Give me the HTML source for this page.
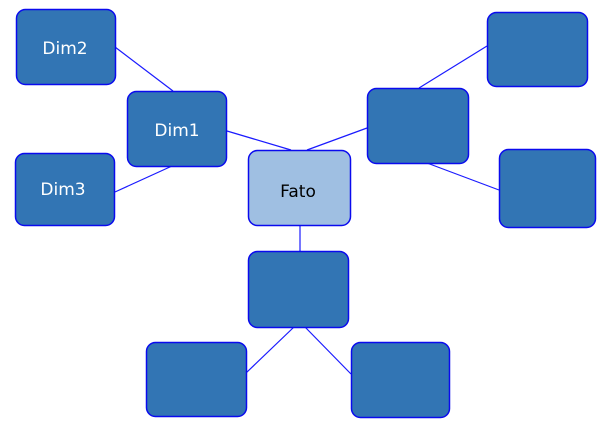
<!DOCTYPE html>
<html><head><meta charset="utf-8"><style>
html,body{margin:0;padding:0;background:#fff;width:600px;height:429px;overflow:hidden}
svg{display:block}
text{font-family:"DejaVu Sans","Liberation Sans",sans-serif;font-size:17px}
</style></head><body>
<svg width="600" height="429" viewBox="0 0 600 429">
<g stroke="#1a1aff" stroke-width="1.2" fill="none">
<line x1="115" y1="47" x2="173" y2="91"/>
<line x1="227" y1="131" x2="291" y2="150"/>
<line x1="172" y1="166" x2="115" y2="192"/>
<line x1="307" y1="150" x2="367" y2="128"/>
<line x1="419" y1="88" x2="487" y2="46"/>
<line x1="427" y1="163" x2="499" y2="190"/>
<line x1="300" y1="225" x2="300" y2="251"/>
<line x1="294" y1="327" x2="246" y2="373"/>
<line x1="305" y1="327" x2="351" y2="374"/>
</g>
<g stroke="#0a0aee" stroke-width="1.5" fill="#3275b4">
<rect x="16.5" y="9.5" width="99" height="75" rx="9"/>
<rect x="127.5" y="91.5" width="99" height="75" rx="9"/>
<rect x="15.5" y="153.5" width="99" height="72" rx="9"/>
<rect x="487.5" y="12.5" width="100" height="74" rx="9"/>
<rect x="367.5" y="88.5" width="101" height="75" rx="9"/>
<rect x="499.5" y="149.5" width="96" height="78" rx="9"/>
<rect x="248.5" y="251.5" width="100" height="76" rx="9"/>
<rect x="146.5" y="342.5" width="100" height="74" rx="9"/>
<rect x="351.5" y="342.5" width="98" height="75" rx="9"/>
<rect x="248.5" y="150.5" width="102" height="75" rx="9" fill="#9fbfe2"/>
</g>
<g fill="#fff" text-anchor="middle">
<text x="65" y="54">Dim2</text>
<text x="177" y="136">Dim1</text>
<text x="63" y="195">Dim3</text>
</g>
<text x="298" y="197" fill="#000" text-anchor="middle">Fato</text>
</svg>
</body></html>
